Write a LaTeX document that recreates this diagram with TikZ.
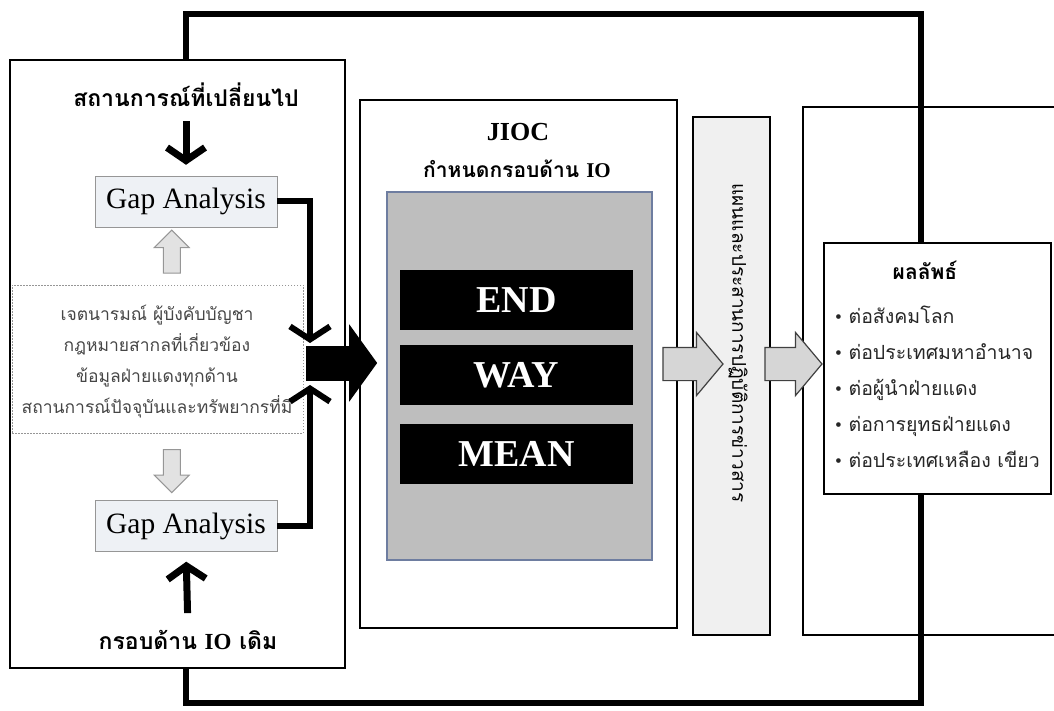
\documentclass[tikz,border=0pt]{standalone}
\usepackage{fontspec}
\setmainfont{Liberation Serif}
\newfontfamily\thai[Script=Thai]{Loma}
\usepackage{tikz}
\usetikzlibrary{arrows.meta,shapes.arrows,calc}
\definecolor{grau}{RGB}{190,190,190}
\definecolor{hellgrau}{RGB}{240,240,240}
\definecolor{pfeilgrau}{RGB}{214,214,214}
\definecolor{randgrau}{RGB}{150,150,150}
\definecolor{blaugrau}{RGB}{110,125,160}
\definecolor{textgrau}{RGB}{70,70,70}
\definecolor{gapblau}{RGB}{238,241,245}

\begin{document}
\begin{tikzpicture}[x=1pt, y=-1pt,
        rahmen/.style={draw=black, line width=1.6pt, inner sep=0pt},
        gapbox/.style={draw=randgrau, fill=gapblau, minimum width=182pt, minimum height=51pt, inner sep=0pt, font=\fontsize{29.5}{29.5}\selectfont},
        balken/.style={fill=black, text=white, minimum width=233pt, minimum height=60pt, inner sep=0pt, font=\bfseries\fontsize{38}{38}\selectfont},
        titel/.style={font=\thai\bfseries\fontsize{23}{23}\selectfont, inner sep=0pt},
        dick/.style={line width=6pt},
        pfeil/.style={line width=7pt, -{Straight Barb[length=13pt, width=38pt]}},
        blockpfeil/.style={single arrow, draw=black!75, line width=1.2pt, fill=pfeilgrau, inner xsep=0pt, inner ysep=16pt, single arrow head extend=15pt, single arrow tip angle=100, minimum height=60pt},
        kleinpfeil/.style={single arrow, draw=randgrau, line width=1pt, fill=pfeilgrau!70, inner xsep=0pt, inner ysep=8pt, single arrow head extend=9pt, minimum height=43pt}
    ]
    \useasboundingbox (0,0) rectangle (1054,711);

    % Linker Kasten
    \node[rahmen, minimum width=335pt, minimum height=608pt] (links) at (177.5,364) {};
    \node[titel] (titeloben) at (186,95) {สถานการณ์ที่เปลี่ยนไป};
    \node[gapbox] (gapeins) at (186,201.5) {Gap Analysis};
    \node[draw=randgrau, line width=1pt, dash pattern=on 1.5pt off 1.5pt, minimum width=291pt, minimum height=148pt, inner sep=0pt] (info) at (157.5,359) {};
    \node[align=center, text=textgrau, font=\thai\fontsize{17.5}{31}\selectfont] (infotext) at (157,362) {เจตนารมณ์ ผู้บังคับบัญชา\\ กฎหมายสากลที่เกี่ยวข้อง\\ ข้อมูลฝ่ายแดงทุกด้าน\\ สถานการณ์ปัจจุบันและทรัพยากรที่มี};
    \node[gapbox] (gapzwei) at (186,526) {Gap Analysis};
    \node[titel] (titelunten) at (188,640) {กรอบด้าน {\rmfamily IO} เดิม};

    % Pfeile im linken Kasten
    \draw[pfeil, shorten <=14pt, shorten >=11pt] (titeloben.south) -- (gapeins.north);
    \draw[pfeil, shorten <=17pt, shorten >=10pt] (titelunten.north) -- (gapzwei.south);
    \node[kleinpfeil, rotate=90] (hocheins) at ($(gapeins.south)!0.5!(info.north)$) {};
    \node[kleinpfeil, rotate=-90] (runterzwei) at ($(info.south)!0.5!(gapzwei.north)$) {};

    % Mittlerer Kasten (JIOC)
    \node[rahmen, minimum width=317pt, minimum height=528pt] (mitte) at (518.5,364) {};
    \node[font=\bfseries\fontsize{26}{26}\selectfont, inner sep=0pt] (jioc) at (518,132) {JIOC};
    \node[titel, font=\thai\bfseries\fontsize{21}{21}\selectfont] (rahmenio) at (517,169) {กำหนดกรอบด้าน {\rmfamily IO}};
    \node[draw=blaugrau, line width=1.4pt, fill=grau, minimum width=265pt, minimum height=368pt] (graubox) at (519.5,376) {};
    \node[balken] (endbalken) at (516.5,300) {END};
    \node[balken] (waybalken) at (516.5,375) {WAY};
    \node[balken] (meanbalken) at (516.5,454) {MEAN};

    % Zusammenfuehrung
    \coordinate (treffoben) at (310,343);
    \coordinate (treffunten) at (310,385);
    \coordinate (treffen) at (306,363);
    \draw[dick, -{Straight Barb[length=13pt, width=40pt]}] (gapeins.east) -| (treffoben);
    \draw[dick, -{Straight Barb[length=13pt, width=40pt]}] (gapzwei.east) -| (treffunten);
    \draw[line width=35pt, -{Triangle[length=28pt, width=76pt]}, shorten >=-18pt] (treffen) -- (treffen -| mitte.west);

    % Senkrechter Kasten
    \node[rahmen, fill=hellgrau, minimum width=77pt, minimum height=518pt] (plan) at (731.5,376) {};
    \node[rotate=-90, font=\thai\fontsize{19}{19}\selectfont, inner sep=0pt] (plantext) at (738,343) {แผนและประสานการปฏิบัติการข่าวสาร};

    % Rechter Rahmen
    \draw[line width=1.6pt] (1056,107) -| (803,635) -- (1056,635);

    % Ergebnis
    \node[draw=black, line width=2.6pt, minimum width=227pt, minimum height=251pt, inner sep=0pt] (ergebnis) at (937.5,368.5) {};
    \node[titel, font=\thai\bfseries\fontsize{21}{21}\selectfont] (ergtitel) at (925,270) {ผลลัพธ์};
    \node[anchor=west, align=left, text=black!85, font=\thai\fontsize{19.5}{36}\selectfont, inner sep=0pt] (liste) at (835,387) {{\rmfamily\textbullet}\ ต่อสังคมโลก\\ {\rmfamily\textbullet}\ ต่อประเทศมหาอำนาจ\\ {\rmfamily\textbullet}\ ต่อผู้นำฝ่ายแดง\\ {\rmfamily\textbullet}\ ต่อการยุทธฝ่ายแดง\\ {\rmfamily\textbullet}\ ต่อประเทศเหลือง เขียว};

    % Graue Blockpfeile
    \node[blockpfeil] (pfeileins) at (686,364) {};
    \node[blockpfeil, minimum height=57pt] (pfeilzwei) at (786.5,364) {};

    % Rueckkopplung
    \draw[dick] ([xshift=8pt]links.north) -- ++(0,-45) -| ([xshift=-17pt]ergebnis.north);
    \draw[dick] ([xshift=8pt]links.south) -- ++(0,34) -| ([xshift=-17pt]ergebnis.south);
\end{tikzpicture}
\end{document}
